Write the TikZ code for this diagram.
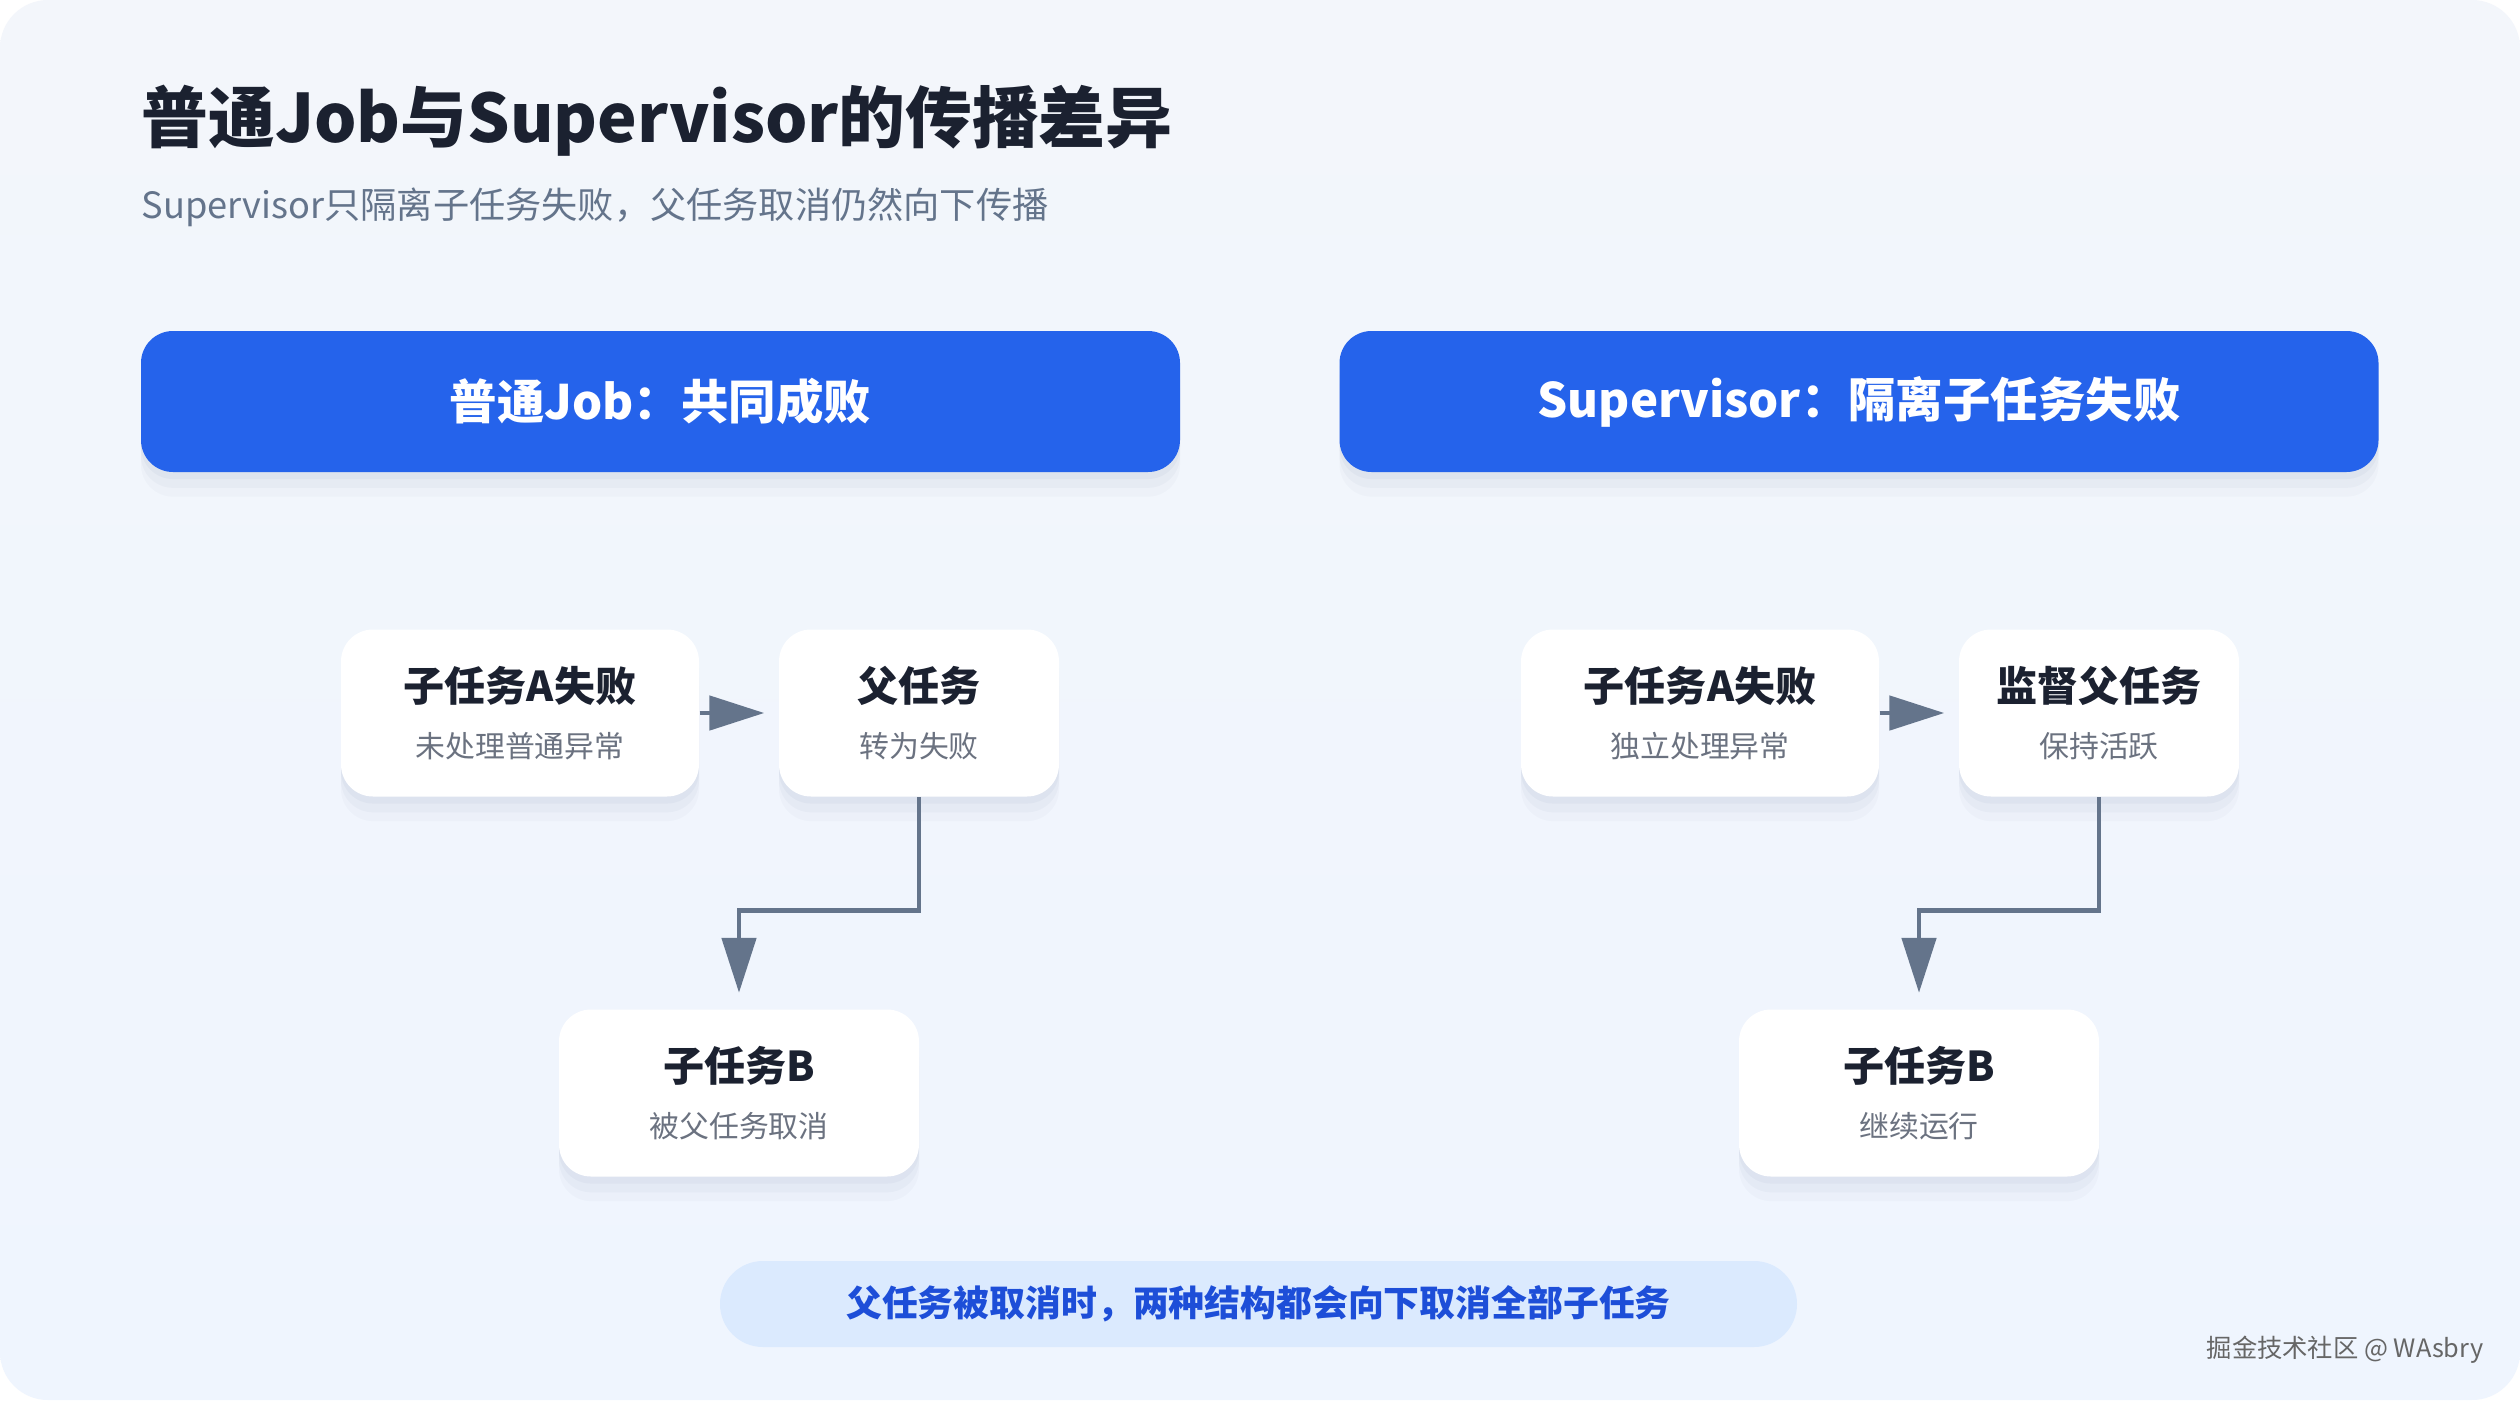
\documentclass[tikz,border=0pt]{standalone}
\usepackage{fontspec}
\setmainfont{Noto Sans CJK SC}
\usetikzlibrary{arrows.meta,positioning}

\definecolor{cardbg}{HTML}{EFF5FE}
\definecolor{cardtop}{HTML}{F3F6FB}
\definecolor{headblue}{HTML}{2563EB}
\definecolor{inkdark}{HTML}{1B2130}
\definecolor{inkgrey}{HTML}{6B7280}
\definecolor{subgrey}{HTML}{64748B}
\definecolor{flowgrey}{HTML}{64748B}
\definecolor{notebg}{HTML}{DBEAFE}
\definecolor{noteblue}{HTML}{1D4ED8}
\definecolor{shadowblue}{HTML}{1E3A6E}

\newcommand{\tasktitle}{\fontsize{11.7pt}{14pt}\selectfont\bfseries\color{inkdark}}
\newcommand{\tasksub}{\fontsize{8.5pt}{14pt}\selectfont\color{inkgrey}}

\tikzset{
    softshadow/.style={
        preaction={fill=shadowblue, opacity=0.025, transform canvas={yshift=-7pt}},
        preaction={fill=shadowblue, opacity=0.03, transform canvas={yshift=-4.5pt}},
        preaction={fill=shadowblue, opacity=0.035, transform canvas={yshift=-2pt}}},
    header/.style={fill=headblue, rounded corners=0.32cm, minimum width=10.39cm,
        minimum height=1.41cm, text=white, softshadow,
        font=\fontsize{13.5pt}{17pt}\selectfont\bfseries},
    task/.style={fill=white, rounded corners=0.32cm, minimum height=1.67cm,
        align=center, softshadow},
    flow/.style={draw=flowgrey, line width=1.4pt,
        -{Triangle[length=0.55cm, width=0.34cm]}},
    note/.style={fill=notebg, rounded corners=0.43cm, minimum width=10.77cm,
        minimum height=0.86cm, text=noteblue,
        font=\fontsize{10.2pt}{12pt}\selectfont\bfseries}
}

\begin{document}
\begin{tikzpicture}

    % Card background
    \useasboundingbox (0,0) rectangle (25.2,-14);
    \fill[white] (0,0) rectangle (25.2,-14);
    \shade[top color=cardtop, bottom color=cardbg, rounded corners=0.48cm]
        (0,0) rectangle (25.2,-14);

    % Title and subtitle
    \node[anchor=west, inner sep=0pt, text=inkdark,
        font=\fontsize{19pt}{22pt}\selectfont\bfseries] (title) at (1.41,-1.21)
        {普通Job与Supervisor的传播差异};
    \node[anchor=west, inner sep=0pt, text=subgrey,
        font=\fontsize{10.3pt}{12pt}\selectfont] (subtitle) at (1.41,-2.07)
        {Supervisor只隔离子任务失败，父任务取消仍然向下传播};

    % Column headers
    \node[header] (headJob) at (6.605,-4.015) {普通Job：共同成败};
    \node[header] (headSup) at (18.59,-4.015) {Supervisor：隔离子任务失败};

    % Plain Job
    \begin{scope}
        \node[task, minimum width=3.58cm] (jobA) at (5.20,-7.13)
            {\tasktitle 子任务A失败\\[4pt]\tasksub 未处理普通异常};
        \node[task, minimum width=2.80cm] (jobP) at (9.19,-7.13)
            {\tasktitle 父任务\\[4pt]\tasksub 转为失败};
        \node[task, minimum width=3.60cm] (jobB) at (7.39,-10.93)
            {\tasktitle 子任务B\\[4pt]\tasksub 被父任务取消};
        \draw[flow, shorten >=0.14cm] (jobA.east) -- (jobP.west);
        \draw[flow, shorten >=0.16cm] (jobP.south) -- ++(0,-1.13) -| (jobB.north);
    \end{scope}

    % Supervisor
    \begin{scope}[xshift=11.80cm]
        \node[task, minimum width=3.58cm] (supA) at (5.20,-7.13)
            {\tasktitle 子任务A失败\\[4pt]\tasksub 独立处理异常};
        \node[task, minimum width=2.80cm] (supP) at (9.19,-7.13)
            {\tasktitle 监督父任务\\[4pt]\tasksub 保持活跃};
        \node[task, minimum width=3.60cm] (supB) at (7.39,-10.93)
            {\tasktitle 子任务B\\[4pt]\tasksub 继续运行};
        \draw[flow, shorten >=0.14cm] (supA.east) -- (supP.west);
        \draw[flow, shorten >=0.16cm] (supP.south) -- ++(0,-1.13) -| (supB.north);
    \end{scope}

    % Bottom note
    \node[note] (note) at (12.585,-13.04) {父任务被取消时，两种结构都会向下取消全部子任务};

    % Watermark
    \node[anchor=east, inner sep=0pt, text=black!60,
        font=\fontsize{7.2pt}{9pt}\selectfont] (mark) at (24.84,-13.50)
        {掘金技术社区 @ WAsbry};

\end{tikzpicture}
\end{document}
